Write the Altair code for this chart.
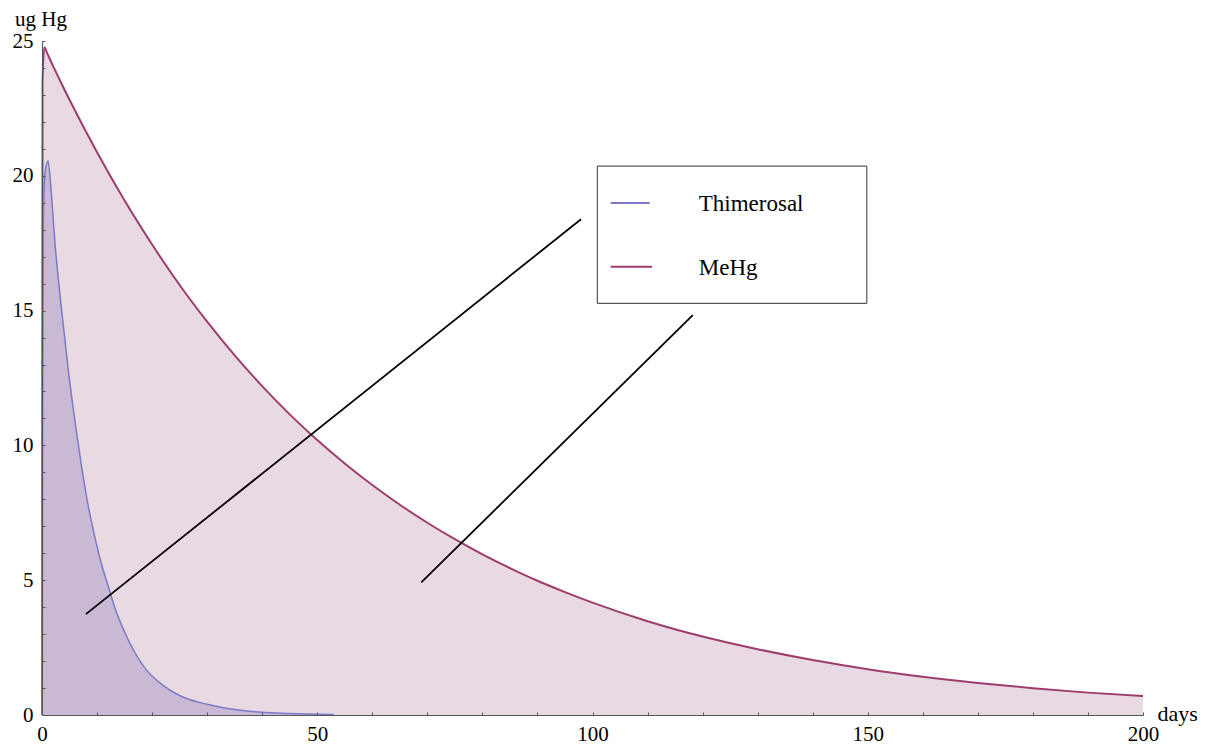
import altair as alt
import pandas as pd

# ---- data ----
thim_days = [0, 0.05, 0.25, 0.6, 1.1, 1.6, 2.4, 3.6, 4.8, 6.3, 7.2, 8.4, 9.6, 10.8, 12.0,
             13.2, 15.0, 18.7, 22.0, 25.9, 30, 35, 40, 45, 50, 53]
thim_values = [0, 12.0, 18.4, 20.2, 20.55, 19.6, 17.4, 14.95, 12.75, 10.45, 9.2, 7.75,
               6.6, 5.6, 4.8, 4.0, 3.08, 1.74, 1.10, 0.64, 0.40, 0.20, 0.10, 0.06, 0.03, 0.02]

mehg_days = [0, 0.1, 0.42, 1, 2, 3, 4, 5, 10, 15, 20, 25, 30, 35, 40, 45, 50, 55, 60, 65,
             70, 75, 80, 85, 90, 95, 100, 110, 120, 130, 140, 150, 160, 170, 180, 190, 200]
mehg_values = [0, 23.5, 24.77, 24.52, 24.08, 23.65, 23.23, 22.82, 20.87, 19.08, 17.45,
               15.95, 14.59, 13.34, 12.20, 11.15, 10.20, 9.33, 8.53, 7.80, 7.13, 6.52,
               5.96, 5.45, 4.98, 4.56, 4.17, 3.48, 2.91, 2.44, 2.04, 1.70, 1.42, 1.19,
               0.995, 0.83, 0.70]

series_names = ["Thimerosal", "MeHg"]
series_colors = ["#7a7ac8", "#9c3d6e"]
fill_colors = ["#cab9d4", "#e9d9e3"]

# annotation pointer lines (start/end in data units)
pointer_x = [7.98, 68.90]
pointer_y = [3.74, 4.92]
pointer_x2 = [97.91, 118.22]
pointer_y2 = [18.39, 14.83]

# legend box (data units)
legend_box = {"day": [100.87], "day2": [149.83], "ugHg": [20.36], "ugHg2": [15.27]}
legend_sample_x = [103.3, 103.3]
legend_sample_x2 = [110.4, 110.85]
legend_sample_y = [18.99, 16.63]
legend_text_x = [119.3, 119.3]
legend_text_y = [18.69, 16.33]

thim = pd.DataFrame({"day": thim_days, "ugHg": thim_values})
mehg = pd.DataFrame({"day": mehg_days, "ugHg": mehg_values})
pointers = pd.DataFrame({"day": pointer_x, "ugHg": pointer_y, "day2": pointer_x2, "ugHg2": pointer_y2})
box = pd.DataFrame(legend_box)
samples = pd.DataFrame({"day": legend_sample_x, "day2": legend_sample_x2,
                        "ugHg": legend_sample_y, "name": series_names})
labels = pd.DataFrame({"day": legend_text_x, "ugHg": legend_text_y, "name": series_names})

FONT = "Liberation Serif"
W, H = 1101, 674

x_scale = alt.Scale(domain=[0, 200], nice=False, zero=False)
y_scale = alt.Scale(domain=[0, 25], nice=False)

x_axis = alt.Axis(
    values=list(range(0, 201, 10)),
    labelExpr="datum.value % 50 === 0 ? datum.label : ''",
    title="days", titleX=W + 14, titleY=5, titleAlign="left", titleAngle=0,
    titleBaseline="alphabetic", titleFont=FONT, titleFontSize=22,
    titleFontWeight="normal", titleColor="black",
    tickSize={"expr": "-3"}, labelPadding=11, labelFlush=False,
    labelFont=FONT, labelFontSize=21, labelColor="black",
    grid=False, domainColor="#555", tickColor="#555", zindex=1,
)
y_axis = alt.Axis(
    values=list(range(0, 26)),
    labelExpr="datum.value % 5 === 0 ? datum.label : ''",
    title="ug Hg", titleX=-1.5, titleY=-16, titleAlign="center", titleAngle=0,
    titleBaseline="alphabetic", titleFont=FONT, titleFontSize=21,
    titleFontWeight="normal", titleColor="black",
    tickSize={"expr": "-3"}, labelPadding=12, labelFlush=False,
    labelFont=FONT, labelFontSize=21, labelColor="black", labelBaseline="middle",
    grid=False, domainColor="#555", tickColor="#555", zindex=1,
)

X = alt.X("day:Q", scale=x_scale, axis=x_axis)
Y = alt.Y("ugHg:Q", scale=y_scale, axis=y_axis)

mehg_area = alt.Chart(mehg).mark_area(color=fill_colors[1], interpolate="monotone").encode(x=X, y=Y)
thim_area = alt.Chart(thim).mark_area(color=fill_colors[0], interpolate="monotone").encode(x=X, y=Y)
mehg_line = alt.Chart(mehg).mark_line(color=series_colors[1], strokeWidth=2, interpolate="monotone").encode(x=X, y=Y)
thim_line = alt.Chart(thim).mark_line(color=series_colors[0], strokeWidth=1.5, interpolate="monotone").encode(x=X, y=Y)

pointer_lines = alt.Chart(pointers).mark_rule(color="black", strokeWidth=1.8).encode(
    x=X, y=Y, x2="day2:Q", y2="ugHg2:Q")

legend_rect = alt.Chart(box).mark_rect(fill="white", stroke="#333", strokeWidth=1).encode(
    x=X, x2="day2:Q", y=Y, y2="ugHg2:Q")

legend_lines = alt.Chart(samples).mark_rule(strokeWidth=2).encode(
    x=X, x2="day2:Q", y=Y,
    color=alt.Color("name:N", scale=alt.Scale(domain=series_names, range=series_colors), legend=None))

legend_labels = alt.Chart(labels).mark_text(
    align="left", baseline="alphabetic", font=FONT, fontSize=23, color="black").encode(
    x=X, y=Y, text="name:N")

chart = alt.layer(
    mehg_area, thim_area, mehg_line, thim_line, pointer_lines,
    legend_rect, legend_lines, legend_labels,
).properties(
    width=W, height=H,
    autosize=alt.AutoSizeParams(type="none"),
    padding={"left": 34, "top": 33, "right": 57, "bottom": 31},
    background="white",
).configure_view(stroke=None)

chart.save("out.html", embed_options={"renderer": "svg", "actions": False})
